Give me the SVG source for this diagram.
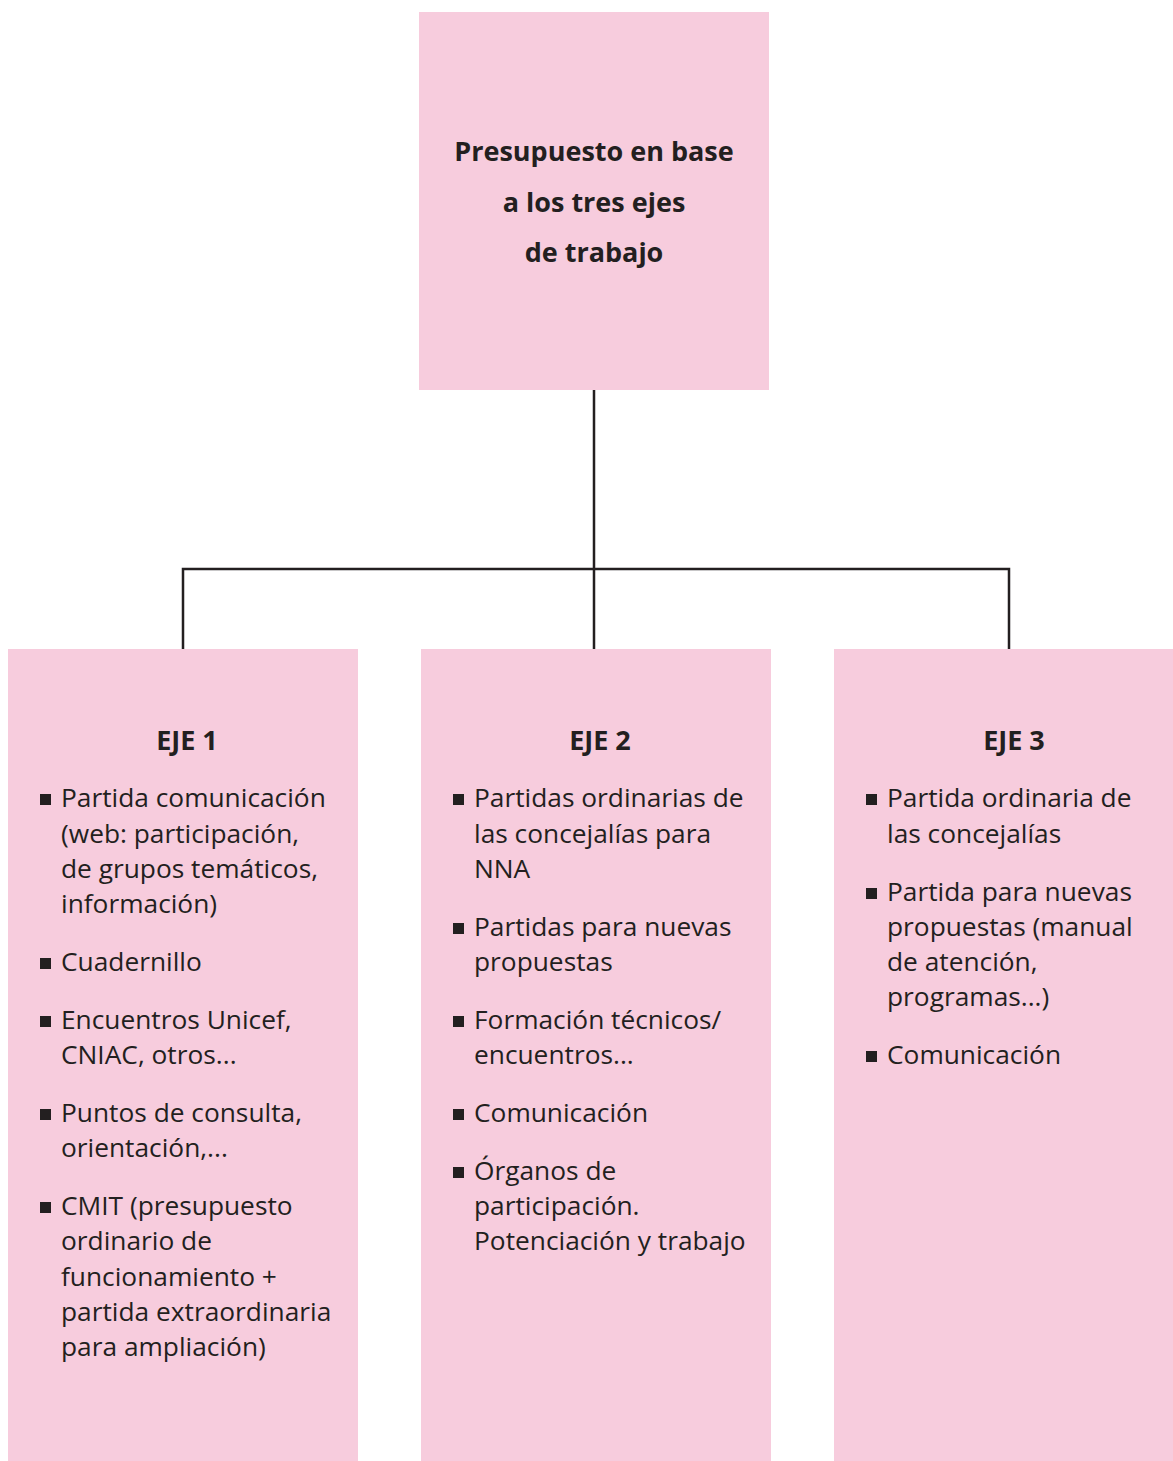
<svg xmlns="http://www.w3.org/2000/svg" width="1173" height="1461" viewBox="0 0 1173 1461">
<style>
.box{fill:#F7CCDD}
.t{font-family:"Open Sans","Noto Sans","Liberation Sans",sans-serif;fill:#231F20}
.title{font-size:27px;font-weight:bold;text-anchor:middle}
.body{font-size:26.3px}
.b{fill:#231F20}
.con{stroke:#231F20;stroke-width:2.5;fill:none}
</style>
<rect width="1173" height="1461" fill="#ffffff"/>
<g id="connectors">
<path class="con" d="M594 390 V649 M183 649 V569 H1009 V649"/>
</g>
<g id="top">
<rect class="box" x="419" y="12" width="350" height="378"/>
<text class="t title" x="594" y="161">Presupuesto en base</text>
<text class="t title" x="594" y="212">a los tres ejes</text>
<text class="t title" x="594" y="262">de trabajo</text>
</g>
<g id="eje1">
<rect class="box" x="8" y="649" width="350" height="812"/>
<text class="t title" x="187" y="750">EJE 1</text>
<rect class="b" x="40" y="794" width="11" height="11"/>
<text class="t body" x="61" y="807">Partida comunicación</text>
<text class="t body" x="61" y="843">(web: participación,</text>
<text class="t body" x="61" y="878">de grupos temáticos,</text>
<text class="t body" x="61" y="913">información)</text>
<rect class="b" x="40" y="958" width="11" height="11"/>
<text class="t body" x="61" y="971">Cuadernillo</text>
<rect class="b" x="40" y="1016" width="11" height="11"/>
<text class="t body" x="61" y="1029">Encuentros Unicef,</text>
<text class="t body" x="61" y="1064">CNIAC, otros...</text>
<rect class="b" x="40" y="1109" width="11" height="11"/>
<text class="t body" x="61" y="1122">Puntos de consulta,</text>
<text class="t body" x="61" y="1157">orientación,...</text>
<rect class="b" x="40" y="1202" width="11" height="11"/>
<text class="t body" x="61" y="1215">CMIT (presupuesto</text>
<text class="t body" x="61" y="1250">ordinario de</text>
<text class="t body" x="61" y="1286">funcionamiento +</text>
<text class="t body" x="61" y="1321">partida extraordinaria</text>
<text class="t body" x="61" y="1356">para ampliación)</text>
</g>
<g id="eje2">
<rect class="box" x="421" y="649" width="350" height="812"/>
<text class="t title" x="600" y="750">EJE 2</text>
<rect class="b" x="453" y="794" width="11" height="11"/>
<text class="t body" x="474" y="807">Partidas ordinarias de</text>
<text class="t body" x="474" y="843">las concejalías para</text>
<text class="t body" x="474" y="878">NNA</text>
<rect class="b" x="453" y="923" width="11" height="11"/>
<text class="t body" x="474" y="936">Partidas para nuevas</text>
<text class="t body" x="474" y="971">propuestas</text>
<rect class="b" x="453" y="1016" width="11" height="11"/>
<text class="t body" x="474" y="1029">Formación técnicos/</text>
<text class="t body" x="474" y="1064">encuentros...</text>
<rect class="b" x="453" y="1109" width="11" height="11"/>
<text class="t body" x="474" y="1122">Comunicación</text>
<rect class="b" x="453" y="1167" width="11" height="11"/>
<text class="t body" x="474" y="1180">Órganos de</text>
<text class="t body" x="474" y="1215">participación.</text>
<text class="t body" x="474" y="1250">Potenciación y trabajo</text>
</g>
<g id="eje3">
<rect class="box" x="834" y="649" width="339" height="812"/>
<text class="t title" x="1014" y="750">EJE 3</text>
<rect class="b" x="866" y="794" width="11" height="11"/>
<text class="t body" x="887" y="807">Partida ordinaria de</text>
<text class="t body" x="887" y="843">las concejalías</text>
<rect class="b" x="866" y="888" width="11" height="11"/>
<text class="t body" x="887" y="901">Partida para nuevas</text>
<text class="t body" x="887" y="936">propuestas (manual</text>
<text class="t body" x="887" y="971">de atención,</text>
<text class="t body" x="887" y="1006">programas...)</text>
<rect class="b" x="866" y="1051" width="11" height="11"/>
<text class="t body" x="887" y="1064">Comunicación</text>
</g>
</svg>
